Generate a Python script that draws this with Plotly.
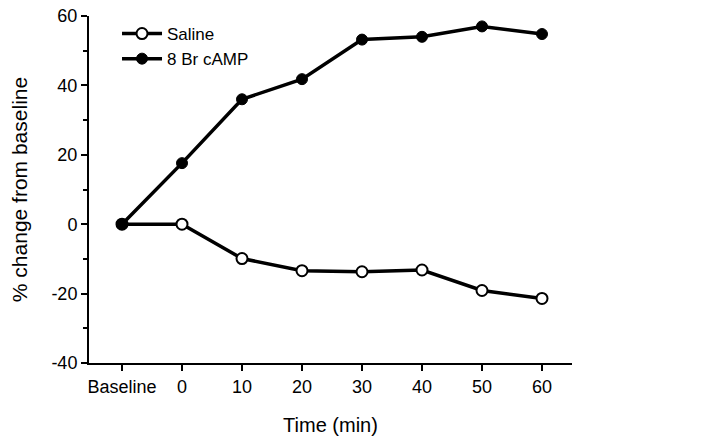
import plotly.graph_objects as go

# Time points (categorical x axis)
time_labels = ["Baseline", "0", "10", "20", "30", "40", "50", "60"]

# % change from baseline
saline = [0, 0, -9.9, -13.4, -13.7, -13.2, -19.1, -21.4]
camp = [0, 17.6, 36.0, 41.8, 53.2, 54.0, 57.0, 54.8]

# y ticks (plain hyphen minus, as in the original)
y_ticks = [-40, -20, 0, 20, 40, 60]
y_tick_text = ["-40", "-20", "0", "20", "40", "60"]

FONT = "Liberation Sans, Arial, Helvetica, sans-serif"

fig = go.Figure()

# Saline - open circles
fig.add_trace(go.Scatter(
    x=time_labels,
    y=saline,
    mode='lines+markers',
    name='Saline',
    line=dict(color='black', width=3.5),
    marker=dict(symbol='circle', size=11, color='white',
                line=dict(color='black', width=2)),
))

# 8 Br cAMP - filled circles
fig.add_trace(go.Scatter(
    x=time_labels,
    y=camp,
    mode='lines+markers',
    name='8 Br cAMP',
    line=dict(color='black', width=3.5),
    marker=dict(symbol='circle', size=11, color='black',
                line=dict(color='black', width=1)),
))

# page body adds an 8px offset, margins compensate for it
fig.update_layout(
    width=720,
    height=439,
    margin=dict(l=81, r=156, t=8, b=84),
    paper_bgcolor='white',
    plot_bgcolor='white',
    font=dict(family=FONT, size=18, color='black'),
    showlegend=True,
    legend=dict(
        x=0.058, y=1.0,
        xanchor='left', yanchor='top',
        bgcolor='rgba(0,0,0,0)',
        font=dict(size=17),
        itemwidth=40,
        tracegroupgap=0,
    ),
    xaxis=dict(
        type='category',
        range=[-0.55, 7.5],
        automargin=False,
        showline=True,
        linecolor='black',
        linewidth=2,
        ticks='outside',
        ticklen=6,
        tickwidth=2,
        tickcolor='black',
        showgrid=False,
        zeroline=False,
        tickfont=dict(size=18),
        title=dict(text='Time (min)', font=dict(size=20), standoff=22),
    ),
    yaxis=dict(
        range=[-40, 60],
        tickvals=y_ticks,
        ticktext=y_tick_text,
        automargin=False,
        ticklabeloverflow='allow',
        showline=True,
        linecolor='black',
        linewidth=2,
        ticks='outside',
        ticklen=6,
        tickwidth=2,
        tickcolor='black',
        minor=dict(ticks='outside', ticklen=4, tickwidth=2, tickcolor='black',
                   dtick=10, tick0=0, showgrid=False),
        showgrid=False,
        zeroline=False,
        tickfont=dict(size=18),
        title=dict(text='% change from baseline', font=dict(size=21), standoff=19),
    ),
)

fig.write_html("out.html")
